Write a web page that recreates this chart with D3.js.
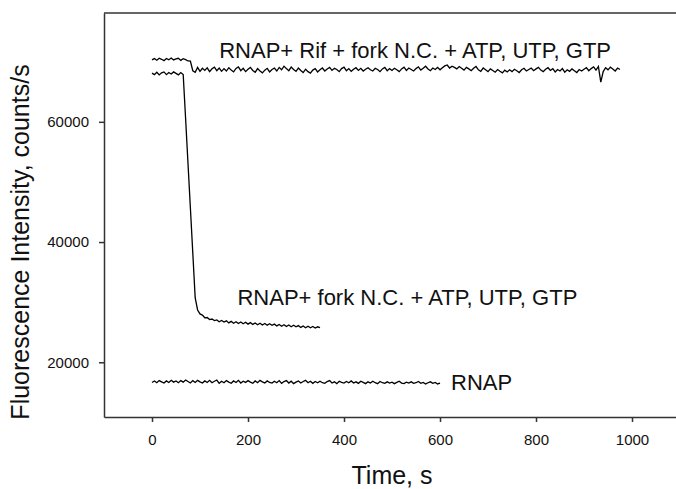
<!DOCTYPE html>
<html>
<head>
<meta charset="utf-8">
<script src="https://cdn.jsdelivr.net/npm/d3@7"></script>
<style>
  body { margin: 0; background: #fff; }
  svg { font-family: Arial, "Liberation Sans", sans-serif; }
</style>
</head>
<body>
<div id="chart"></div>
<script>
const width = 676;
const height = 489;
const margin = { top: 13, right: -4, bottom: 72, left: 104 };

// sampling interval of the traces, s
const step = 5;

// RNAP + Rif + fork N.C. + ATP, UTP, GTP (starts at t = 0)
const rifTrace = [
  70300, 70520, 70250, 70580, 70400, 70180, 70540, 70330, 70610, 70290,
  70470, 70560, 70220, 70500, 70340, 70120, 70080, 68500, 68250, 69050,
  68400, 68900, 68550, 68980, 68350, 68820, 69100, 68500, 68950, 68400,
  68850, 68450, 69000, 68600, 68300, 68880, 69120, 68500, 68900, 68350,
  68750, 69050, 68550, 68250, 68850, 68450, 68150, 68600, 68900, 68300,
  68700, 68950, 68450, 69050, 68650, 69250, 68850, 68500, 69100, 68700,
  68400, 68950, 68550, 68200, 68750, 68350, 68100, 68600, 68850, 68300,
  68650, 68950, 68450, 68800, 69050, 68550, 68900, 68700, 68350, 68850,
  69100, 68500, 68850, 68400, 68750, 69000, 68550, 68900, 68450, 68750,
  69000, 68650, 68450, 68900, 68700, 68350, 68800, 69050, 68500, 68850,
  68550, 68900, 68650, 68350, 68800, 69100, 68550, 68950, 68700, 68450,
  68850, 69150, 68600, 68900, 69250, 68800, 68500, 68950, 68700, 69050,
  68650, 69000, 69300, 69450, 68950, 69250, 69050, 68800, 69200, 68900,
  68600, 69050, 68800, 68500, 68900, 69200, 68650, 68400, 68950, 68650,
  68350, 68800, 68550, 68250, 68700, 68400, 68150, 68600, 68300, 68650,
  68350, 68750, 68500, 68200, 68650, 68900, 68450, 68700, 68950, 68500,
  68800, 69050, 68600, 68350, 68750, 69000, 68550, 68850, 68300, 68700,
  68450, 68850, 68250, 68650, 68400, 68800, 68500, 68200, 68700, 68450,
  68750, 69000, 68500, 68850, 69150, 68600, 69200, 66600, 68350, 69000,
  68650, 69100, 68800, 68450, 68950, 68700
];

// RNAP + fork N.C. + ATP, UTP, GTP
const forkTrace = [
  68100, 67850, 68250, 67800, 68150, 68300, 67850, 68200, 67950, 68300,
  68050, 67800, 68200, 67850, 60540, 53080, 45620, 38160, 30700, 28700,
  28050, 27850, 27400, 27450, 27100, 27200, 26950, 27050, 26750, 26950,
  26700, 26900, 26550, 26800, 26500, 26750, 26450, 26700, 26400, 26650,
  26350, 26600, 26300, 26550, 26250, 26500, 26200, 26450, 26150, 26400,
  26150, 26350, 26050, 26300, 26000, 26250, 25950, 26200, 25900, 26150,
  25900, 26100, 25800, 26050, 25750, 26000, 25750, 25950, 25700, 25900,
  25750
];

// RNAP alone
const rnapTrace = [
  16650, 16900, 16600, 16950, 16750, 16550, 16900, 16650, 17000, 16700,
  16900, 16600, 16950, 16700, 17050, 16800, 16550, 16950, 16650, 17000,
  16750, 16550, 16900, 16650, 17000, 16600, 16850, 17050, 16500, 16850,
  16600, 16950, 16700, 16500, 16900, 16650, 17000, 16550, 16850, 16650,
  16950, 16700, 16500, 16900, 16600, 17000, 16750, 16550, 16900, 16650,
  16550, 16850, 16600, 16950, 16500, 16800, 16950, 16550, 16850, 16450,
  16700, 16900, 16550, 16800, 17000, 16600, 16850, 16500, 16800, 16600,
  16850, 16600, 16500, 16800, 16950, 16550, 16750, 16450, 16850, 16650,
  16550, 16800, 16600, 16900, 16550, 16750, 16500, 16850, 16650, 16450,
  16750, 16550, 16850, 16600, 16450, 16800, 16600, 16500, 16750, 16550,
  16700, 16450, 16650, 16850, 16550, 16450, 16700, 16550, 16750, 16500,
  16600, 16800, 16500, 16650, 16400, 16600, 16750, 16500, 16650, 16400,
  16550
];

const xTicks = [0, 200, 400, 600, 800, 1000];
const yTicks = [20000, 40000, 60000];

const labels = [
  { text: "RNAP+ Rif + fork N.C. + ATP, UTP, GTP", t: 140, v: 70600 },
  { text: "RNAP+ fork N.C. + ATP, UTP, GTP", t: 178, v: 29500 },
  { text: "RNAP", t: 623, v: 15400 }
];

const svg = d3
  .select("#chart")
  .append("svg")
  .attr("width", width)
  .attr("height", height);

const x = d3
  .scaleLinear()
  .domain([-100, 1100])
  .range([margin.left, width - margin.right]);

const y = d3
  .scaleLinear()
  .domain([10900, 78100])
  .range([height - margin.bottom, margin.top]);

const line = d3
  .line()
  .x((d, i) => x(i * step))
  .y((d) => y(d));

// Traces
[rifTrace, forkTrace, rnapTrace].forEach((trace) => {
  svg
    .append("path")
    .datum(trace)
    .attr("fill", "none")
    .attr("stroke", "#000")
    .attr("stroke-width", 1.3)
    .attr("d", line);
});

// Axes
const xAxis = svg
  .append("g")
  .attr("transform", `translate(0,${height - margin.bottom})`)
  .call(
    d3.axisBottom(x).tickValues(xTicks).tickFormat(d3.format("d"))
      .tickSize(5).tickSizeOuter(0).tickPadding(12)
  );

const yAxis = svg
  .append("g")
  .attr("transform", `translate(${margin.left},0)`)
  .call(
    d3.axisLeft(y).tickValues(yTicks).tickFormat(d3.format("d"))
      .tickSize(5).tickSizeOuter(0).tickPadding(10)
  );

[xAxis, yAxis].forEach((ax) => {
  ax.selectAll("path, line").attr("stroke", "#333").attr("stroke-width", 1.5);
  ax.selectAll("text")
    .attr("fill", "#111")
    .style("font-size", "15px")
    .style("font-family", "Arial, 'Liberation Sans', sans-serif");
});

// top frame line
svg
  .append("line")
  .attr("x1", x.range()[0])
  .attr("x2", x.range()[1])
  .attr("y1", y.range()[1])
  .attr("y2", y.range()[1])
  .attr("stroke", "#333")
  .attr("stroke-width", 1.5);

// Trace labels
svg
  .selectAll("text.lab")
  .data(labels)
  .enter()
  .append("text")
  .attr("class", "lab")
  .attr("x", (d) => x(d.t))
  .attr("y", (d) => y(d.v))
  .attr("fill", "#111")
  .style("font-size", "22px")
  .text((d) => d.text);

// Axis titles
svg
  .append("text")
  .attr("x", 392)
  .attr("y", 484)
  .attr("text-anchor", "middle")
  .attr("fill", "#111")
  .style("font-size", "25px")
  .text("Time, s");

svg
  .append("text")
  .attr("transform", "translate(29,242) rotate(-90)")
  .attr("text-anchor", "middle")
  .attr("fill", "#111")
  .style("font-size", "25px")
  .text("Fluorescence Intensity, counts/s");
</script>
</body>
</html>
